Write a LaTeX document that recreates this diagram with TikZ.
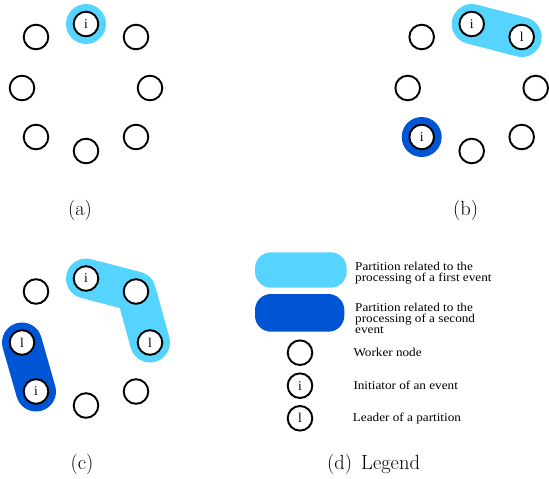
\documentclass[tikz,border=0pt]{standalone}
\usepackage{fontspec}
\newfontfamily\legfont[FakeStretch=1.1]{Liberation Serif}
\newfontfamily\lblfont{Liberation Serif}
\usetikzlibrary{backgrounds}
\definecolor{partA}{RGB}{85,212,255}
\definecolor{partB}{RGB}{0,85,212}
\begin{document}
\begin{tikzpicture}[x=1pt,y=-1pt,
  worker/.style={circle,draw=black,line width=1.9pt,fill=white,minimum size=24.6pt,inner sep=0pt,font=\lblfont\fontsize{13.5}{14}\selectfont},
  partA line/.style={draw=partA,line width=40pt,line cap=round,line join=round},
  partB line/.style={draw=partB,line width=40pt,line cap=round,line join=round},
  caption/.style={anchor=base,inner sep=0pt,font=\fontsize{20.5}{24}\selectfont},
  legtext/.style={anchor=north west,inner sep=0pt,align=left,font=\legfont\fontsize{12}{10.8}\selectfont}]
\useasboundingbox (0,0) rectangle (549,479);

% ---------- panel (a)
\begin{scope}
  \node[worker] (aT)  at (86,24)  {i};
  \node[worker] (aUL) at (36,37)  {};
  \node[worker] (aUR) at (136,37) {};
  \node[worker] (aL)  at (22,88)  {};
  \node[worker] (aR)  at (150,88) {};
  \node[worker] (aLL) at (36,137) {};
  \node[worker] (aLR) at (136,137){};
  \node[worker] (aB)  at (86,151) {};
  \node[caption] (capa) at (80,215) {(a)};
\end{scope}
\begin{scope}[on background layer]
  \fill[partA] (aT.center) circle[radius=20pt];
\end{scope}

% ---------- panel (b)
\begin{scope}[shift={(385.7,0)}]
  \node[worker] (bT)  at (86,24)  {i};
  \node[worker] (bUL) at (36,37)  {};
  \node[worker] (bUR) at (136,37) {l};
  \node[worker] (bL)  at (22,88)  {};
  \node[worker] (bR)  at (150,88) {};
  \node[worker] (bLL) at (36,137) {i};
  \node[worker] (bLR) at (136,137){};
  \node[worker] (bB)  at (86,151) {};
  \node[caption] (capb) at (80,215) {(b)};
\end{scope}
\begin{scope}[on background layer]
  \draw[partA line] (bT.center) -- (bUR.center);
  \fill[partB] (bLL.center) circle[radius=20pt];
\end{scope}

% ---------- panel (c)
\begin{scope}[shift={(0,254.5)}]
  \node[worker] (cT)  at (86,24)  {i};
  \node[worker] (cUL) at (36,37)  {};
  \node[worker] (cUR) at (136,37) {};
  \node[worker] (cL)  at (22,88)  {l};
  \node[worker] (cR)  at (150,88) {l};
  \node[worker] (cLL) at (36,137) {i};
  \node[worker] (cLR) at (136,137){};
  \node[worker] (cB)  at (86,151) {};
  \node[caption] (capc) at (82,215) {(c)};
\end{scope}
\begin{scope}[on background layer]
  \draw[partA line] (cT.center) -- (cUR.center) -- (cR.center);
  \draw[partB line] (cL.center) -- (cLL.center);
\end{scope}

% ---------- legend (d)
\fill[partA, rounded corners=16pt] (255,252.3) rectangle (346.7,287.7);
\fill[partB, rounded corners=16pt] (255,294) rectangle (344.3,331.7);
\node[legtext] (t1) at (355,262) {Partition related to the\\processing of a first event};
\node[legtext] (t2) at (355,303) {Partition related to the\\processing of a second\\event};
\node[worker] (lw) at (300,352.7) {};
\node[worker] (li) at (300,385.7) {i};
\node[worker] (ll) at (300,418.3) {l};
\node[legtext,anchor=west] (t3) at (353.3,352.7) {Worker node};
\node[legtext,anchor=west] (t4) at (353.3,385.7) {Initiator of an event};
\node[legtext,anchor=west] (t5) at (352.7,418.3) {Leader of a partition};
\node[caption,anchor=base west] (capd) at (327,469) {(d)\hspace{9pt}Legend};
\end{tikzpicture}
\end{document}
